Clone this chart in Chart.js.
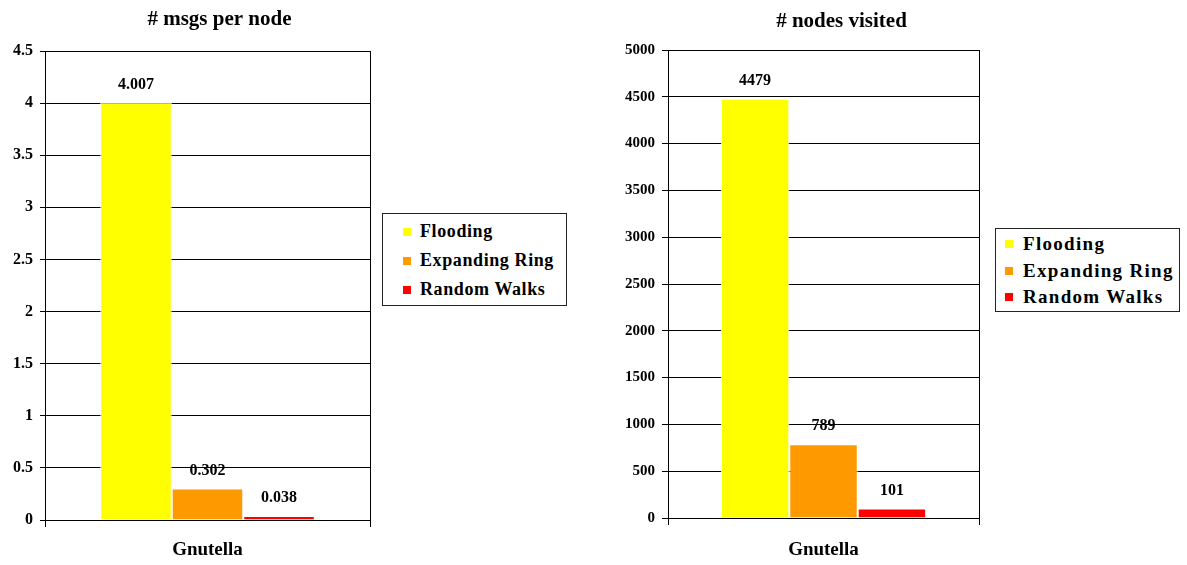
<!DOCTYPE html>
<html>
<head>
<meta charset="utf-8">
<script src="https://cdn.jsdelivr.net/npm/chart.js@4"></script>
<style>
  body { margin: 0; background: #fff; width: 1187px; height: 565px; position: relative; overflow: hidden; }
  canvas { position: absolute; top: 0; }
  #msgsChart { left: 0; }
  #nodesChart { left: 600px; }
  .legend { position: absolute; border: 1px solid #222; background: #fff; box-sizing: border-box;
            font-family: "Liberation Serif", "Times New Roman", serif; font-weight: bold; color: #000; }
  .legend .row { display: flex; align-items: center; white-space: nowrap; }
  .legend .sw { display: inline-block; width: 8px; height: 8px; flex: none; }
  #legendLeft { left: 382px; top: 213px; width: 185px; height: 93px; padding: 3px 0 0 20px; font-size: 18px; letter-spacing: 0.6px; }
  #legendLeft .row { height: 29px; }
  #legendLeft .sw { margin-right: 9px; }
  #legendRight { left: 995px; top: 228px; width: 185px; height: 84px; padding: 2px 0 0 9px; font-size: 19px; letter-spacing: 1.3px; }
  #legendRight .row { height: 26.5px; }
  #legendRight .sw { margin-right: 10px; }
</style>
</head>
<body>
<canvas id="msgsChart" width="380" height="565"></canvas>
<canvas id="nodesChart" width="390" height="565"></canvas>
<div class="legend" id="legendLeft"></div>
<div class="legend" id="legendRight"></div>
<script>
const categories = ["Gnutella"];
const seriesNames = ["Flooding", "Expanding Ring", "Random Walks"];
const seriesColors = ["#FFFF00", "#FF9900", "#FF0000"];
const msgsPerNode = [4.007, 0.302, 0.038];
const nodesVisited = [4479, 789, 101];

const FONT = "'Liberation Serif', 'Times New Roman', serif";

// value labels above each bar
const barValueLabels = {
  id: "barValueLabels",
  afterDatasetsDraw(chart) {
    const ctx = chart.ctx;
    ctx.save();
    ctx.font = "bold 16px " + FONT;
    ctx.fillStyle = "#000";
    ctx.textAlign = "center";
    ctx.textBaseline = "middle";
    chart.data.datasets.forEach((ds, i) => {
      chart.getDatasetMeta(i).data.forEach((bar, j) => {
        ctx.fillText(String(ds.data[j]), bar.x, bar.y - 18);
      });
    });
    ctx.restore();
  }
};

// title drawn over the plot, shifted a little right like the original
const plotTitle = {
  id: "plotTitle",
  afterDraw(chart, args, opts) {
    const ctx = chart.ctx;
    const area = chart.chartArea;
    ctx.save();
    ctx.font = "bold 21px " + FONT;
    ctx.fillStyle = "#000";
    ctx.textAlign = "center";
    ctx.textBaseline = "middle";
    ctx.fillText(opts.text, (area.left + area.right) / 2 + opts.dx, area.top - opts.dy);
    ctx.restore();
  }
};

function makeChart(id, title, values, maxY, step, opts) {
  return new Chart(document.getElementById(id), {
    type: "bar",
    data: {
      labels: categories,
      datasets: seriesNames.map((name, i) => ({
        label: name,
        data: [values[i]],
        backgroundColor: seriesColors[i],
        borderColor: "#fff",
        borderWidth: 1,
        barPercentage: 1.0,
        categoryPercentage: 0.66,
      })),
    },
    options: {
      responsive: false,
      animation: false,
      layout: { padding: { left: 0, right: opts.padRight, top: opts.padTop, bottom: 0 } },
      plugins: {
        legend: { display: false },
        tooltip: { enabled: false },
        title: { display: false },
        plotTitle: { text: title, dx: opts.titleDx, dy: opts.titleDy },
      },
      scales: {
        x: {
          z: 1,
          offset: true,
          grid: { display: true, offset: true, drawOnChartArea: true, color: "#000", lineWidth: 1, tickLength: 7 },
          border: { display: true, color: "#000", width: 1 },
          ticks: { color: "#000", padding: opts.xPad, font: { family: FONT, size: 19, weight: "bold" } },
          afterFit(scale) { scale.height = opts.xHeight; },
        },
        y: {
          min: 0,
          max: maxY,
          ticks: {
            stepSize: step,
            color: "#000",
            padding: 7,
            font: { family: FONT, size: opts.tickSize, weight: "bold" },
            callback: (v) => String(v),
          },
          grid: { color: "#000", lineWidth: 1, tickLength: opts.yTick },
          border: { display: true, color: "#000", width: 1 },
          afterFit(scale) { scale.width = opts.yWidth; },
        },
      },
    },
    plugins: [barValueLabels, plotTitle],
  });
}

makeChart("msgsChart", "# msgs per node", msgsPerNode, 4.5, 0.5,
  { padRight: 10, padTop: 51, titleDx: 12, titleDy: 31, xHeight: 45, xPad: 12, yWidth: 45, yTick: 5, tickSize: 16 });
makeChart("nodesChart", "# nodes visited", nodesVisited, 5000, 500,
  { padRight: 11, padTop: 50, titleDx: 18, titleDy: 28, xHeight: 47, xPad: 14, yWidth: 68, yTick: 6, tickSize: 15 });

function buildLegend(id) {
  const box = document.getElementById(id);
  seriesNames.forEach((name, i) => {
    const row = document.createElement("div");
    row.className = "row";
    const sw = document.createElement("span");
    sw.className = "sw";
    sw.style.background = seriesColors[i];
    row.appendChild(sw);
    row.appendChild(document.createTextNode(name));
    box.appendChild(row);
  });
}
buildLegend("legendLeft");
buildLegend("legendRight");
</script>
</body>
</html>
